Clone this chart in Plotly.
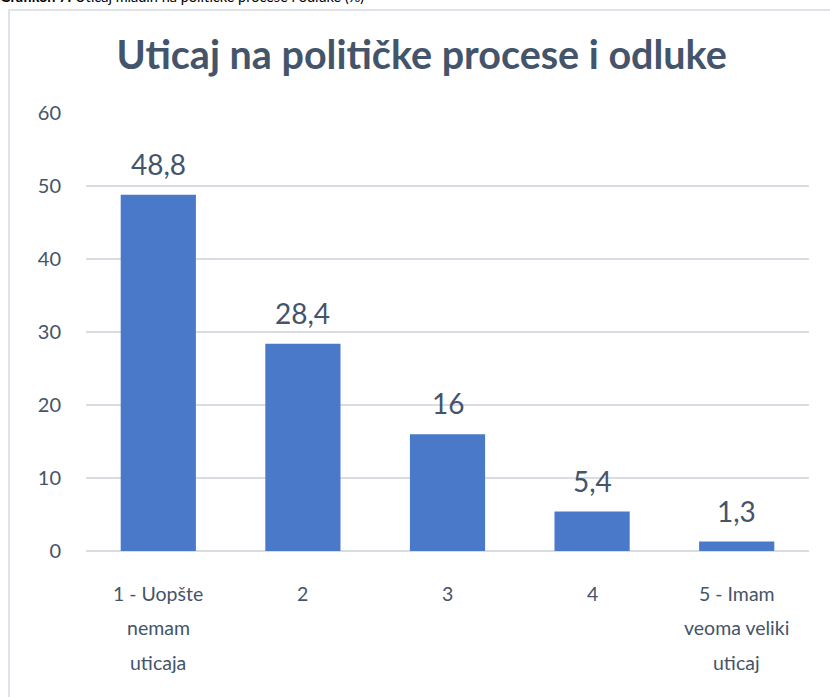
import plotly.graph_objects as go

categories = ["1 - Uopšte nemam uticaja", "2", "3", "4", "5 - Imam veoma veliki uticaj"]
category_label_lines = [["1 - Uopšte", "nemam", "uticaja"], ["2"], ["3"], ["4"],
                        ["5 - Imam", "veoma veliki", "uticaj"]]
values = [48.8, 28.4, 16, 5.4, 1.3]
value_labels = ["48,8", "28,4", "16", "5,4", "1,3"]
y_ticks = [0, 10, 20, 30, 40, 50, 60]

title_text = "Uticaj na političke procese i odluke"
caption_text = "<b>Grafikon 7:</b> Uticaj mladih na političke procese i odluke (%)"

TXT = "#44546a"
GRID = "#d9dde3"
FONT = "Lato"

W, H = 830, 697
ML, MR, MT, MB = 86, 21, 113, 146
pw = W - ML - MR
ph = H - MT - MB

def px_to_paper_x(px):
    return (px - ML) / pw

def px_to_paper_y(py):
    return (H - MB - py) / ph

idx = list(range(len(categories)))

fig = go.Figure()
fig.add_trace(go.Bar(
    x=idx, y=values,
    marker=dict(color="#4b79c9", line=dict(width=0)),
    width=0.52,
    hovertext=categories, hoverinfo="text+y",
))

for i, v, t in zip(idx, values, value_labels):
    fig.add_annotation(x=i, y=v, text=t, showarrow=False, yanchor="bottom",
                       yshift=12, font=dict(family=FONT, size=28, color=TXT))

# category labels (multi-line, Excel-like line spacing)
for i, lines in zip(idx, category_label_lines):
    for k, line in enumerate(lines):
        fig.add_annotation(x=i, y=0, text=line, showarrow=False, yanchor="middle",
                           yshift=-42 - 34.5 * k,
                           font=dict(family=FONT, size=19.5, color=TXT))

# chart frame
fig.add_shape(type="rect", xref="paper", yref="paper",
              x0=px_to_paper_x(9), x1=px_to_paper_x(845),
              y0=px_to_paper_y(720), y1=px_to_paper_y(10),
              line=dict(color="#dfe3ea", width=2), fillcolor="rgba(0,0,0,0)",
              layer="below")

# cropped caption above the frame
fig.add_annotation(xref="paper", yref="paper", x=px_to_paper_x(-2), y=px_to_paper_y(7),
                   xanchor="left", yanchor="bottom", showarrow=False,
                   text=caption_text, font=dict(family=FONT, size=14.5, color="#000000"))

fig.update_layout(
    width=W, height=H,
    margin=dict(l=ML, r=MR, t=MT, b=MB, pad=0),
    paper_bgcolor="white", plot_bgcolor="white",
    showlegend=False,
    title=dict(text=f"<b>{title_text}</b>", x=0.508, xanchor="center",
               y=1 - 55 / H, yanchor="middle", xref="container", yref="container",
               font=dict(family=FONT, size=39.5, color=TXT)),
    xaxis=dict(range=[-0.5, 4.5], showgrid=False, showline=False, ticks="",
               showticklabels=False, zeroline=False),
    yaxis=dict(range=[0, 60], tickvals=y_ticks, showgrid=True, gridcolor=GRID,
               gridwidth=1.5, zeroline=True, zerolinecolor=GRID, zerolinewidth=1.5,
               showline=False, ticks="", ticklabelstandoff=24,
               tickfont=dict(family=FONT, size=20, color=TXT)),
)

fig.write_html("out.html", config={"displayModeBar": False},
               post_script="document.body.style.margin='0';")
